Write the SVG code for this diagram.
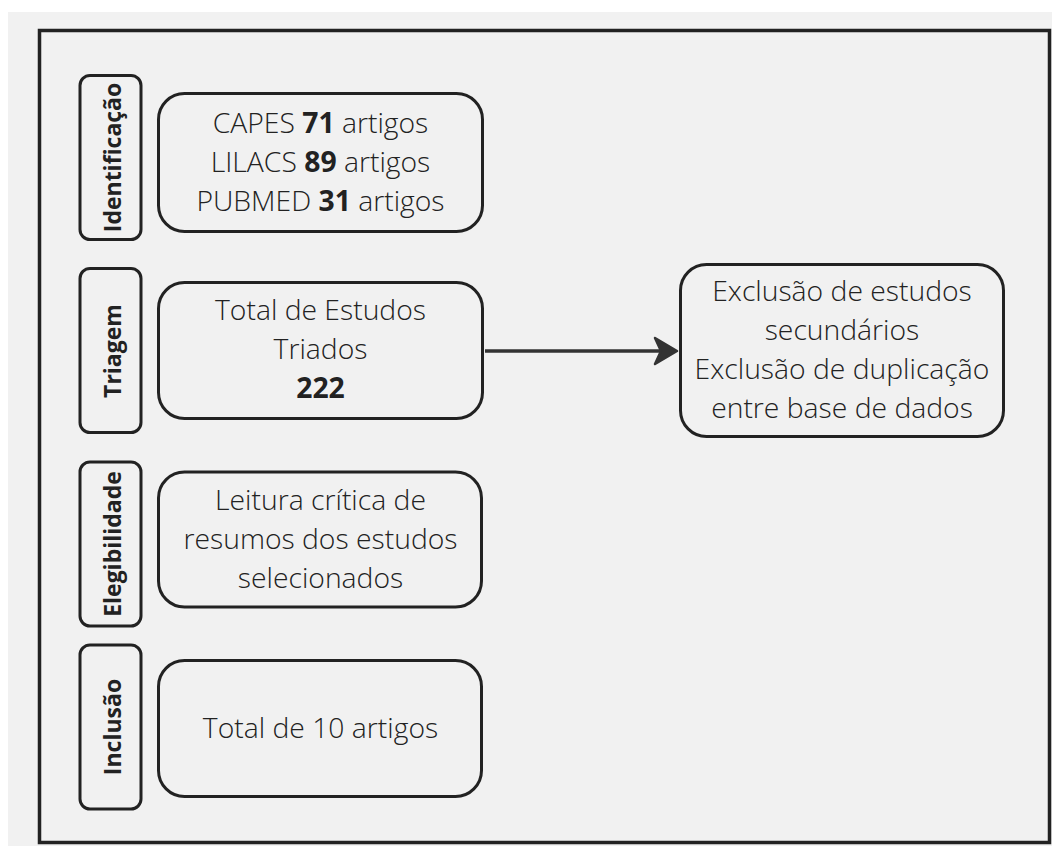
<svg xmlns="http://www.w3.org/2000/svg" width="1063" height="859" viewBox="0 0 1063 859">
<style>
.box{fill:none;stroke:#222;stroke-width:3}
.t{font-family:"Open Sans","Noto Sans",sans-serif;font-size:28.3px;font-weight:300;fill:#222;text-anchor:middle}
.b{font-weight:bold}
.lab{font-family:"Open Sans","Noto Sans",sans-serif;font-size:23px;font-weight:bold;fill:#222;text-anchor:middle;dominant-baseline:central}
</style>
<rect x="0" y="0" width="1063" height="859" fill="#ffffff"/>
<rect x="8" y="12" width="1044" height="834" fill="#f1f1f1"/>
<rect id="frame" x="39.5" y="30.5" width="1010" height="812" fill="none" stroke="#222" stroke-width="3.5"/>

<g id="lab-identificacao">
<rect class="box" x="80" y="75.5" width="61" height="164" rx="10"/>
<text class="lab" transform="translate(112,157.5) rotate(-90)">Identificação</text>
</g>
<g id="lab-triagem">
<rect class="box" x="80" y="268.5" width="61" height="164" rx="10"/>
<text class="lab" transform="translate(112,351) rotate(-90)">Triagem</text>
</g>
<g id="lab-elegibilidade">
<rect class="box" x="80" y="462" width="61" height="164" rx="10"/>
<text class="lab" transform="translate(112,544) rotate(-90)">Elegibilidade</text>
</g>
<g id="lab-inclusao">
<rect class="box" x="80" y="645" width="61" height="164" rx="10"/>
<text class="lab" transform="translate(112,727) rotate(-90)">Inclusão</text>
</g>

<g id="node-identificacao">
<rect class="box" x="158.5" y="93.5" width="324" height="138" rx="26"/>
<text class="t" x="320.5" y="133">CAPES <tspan class="b">71</tspan> artigos</text>
<text class="t" x="320.5" y="172">LILACS <tspan class="b">89</tspan> artigos</text>
<text class="t" x="320.5" y="211">PUBMED <tspan class="b">31</tspan> artigos</text>
</g>
<g id="node-triagem">
<rect class="box" x="158.5" y="282.5" width="324" height="136" rx="26"/>
<text class="t" x="320.5" y="320">Total de Estudos</text>
<text class="t" x="320.5" y="359">Triados</text>
<text class="t b" x="320.5" y="398">222</text>
</g>
<g id="node-elegibilidade">
<rect class="box" x="158.5" y="472" width="323" height="135" rx="26"/>
<text class="t" x="320.5" y="510">Leitura crítica de</text>
<text class="t" x="320.5" y="549">resumos dos estudos</text>
<text class="t" x="320.5" y="588">selecionados</text>
</g>
<g id="node-inclusao">
<rect class="box" x="158.5" y="660.5" width="323" height="136" rx="26"/>
<text class="t" x="320.5" y="738">Total de 10 artigos</text>
</g>
<g id="node-exclusao">
<rect class="box" x="680.5" y="264.5" width="323" height="172" rx="26"/>
<text class="t" x="842" y="301">Exclusão de estudos</text>
<text class="t" x="842" y="340">secundários</text>
<text class="t" x="842" y="379">Exclusão de duplicação</text>
<text class="t" x="842" y="418">entre base de dados</text>
</g>

<g id="connectors">
<line x1="485" y1="351" x2="662" y2="351" stroke="#333" stroke-width="3.5"/>
<path d="M655,338 L677,351 L655,364 L661,351 Z" fill="#333" stroke="#333" stroke-width="2.5" stroke-linejoin="round"/>
</g>
</svg>
